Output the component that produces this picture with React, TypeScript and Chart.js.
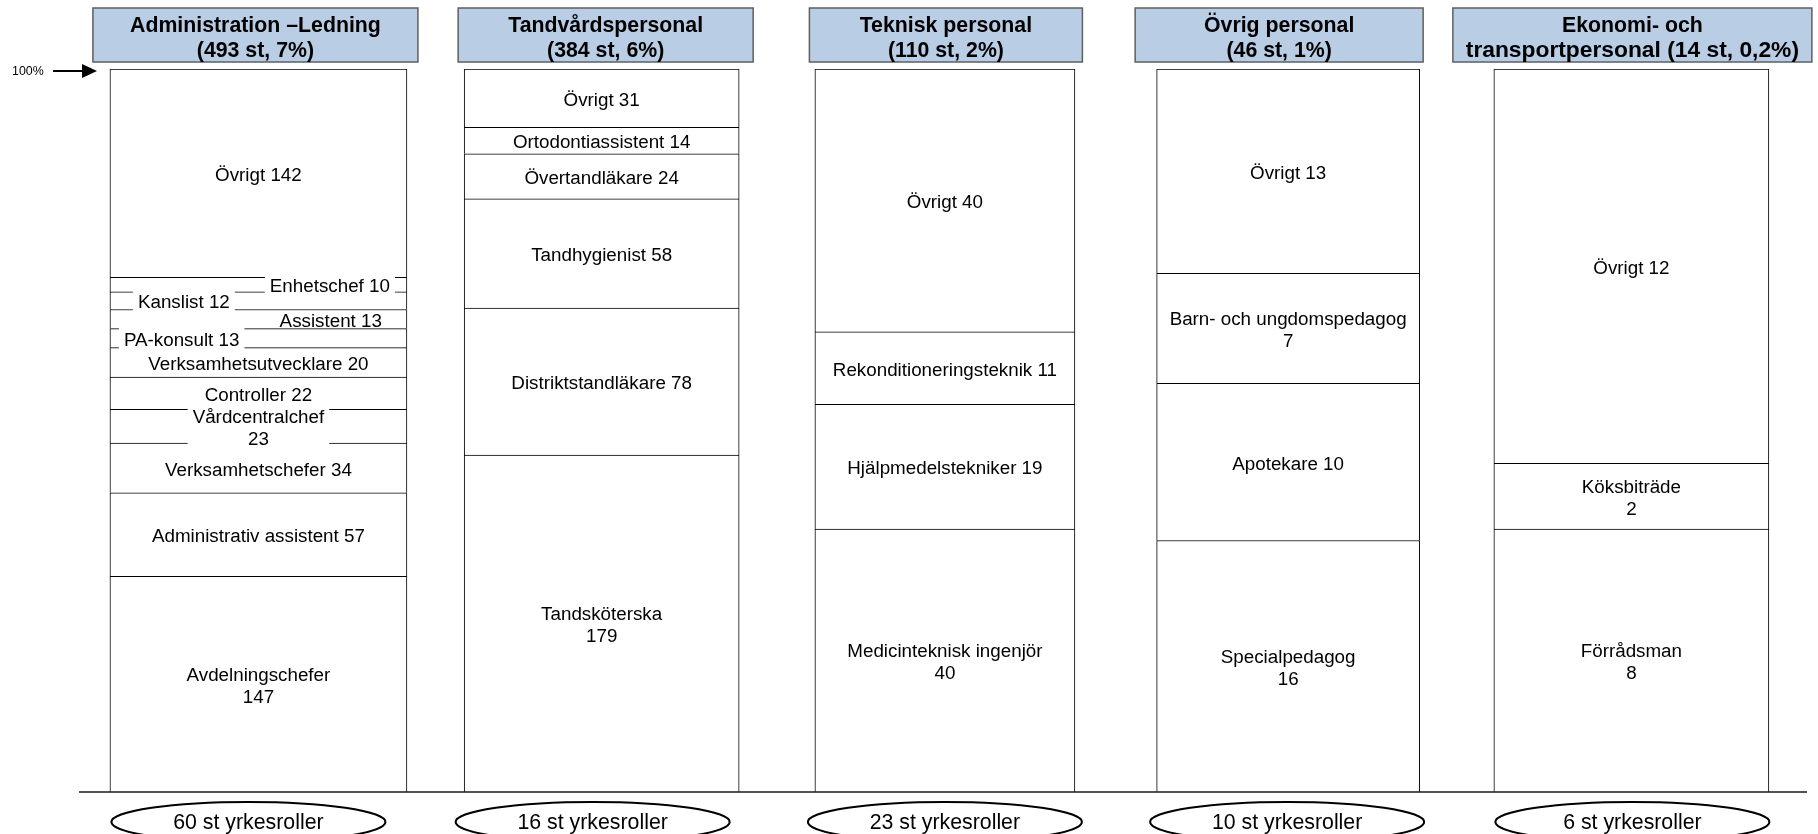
import React, { useEffect, useRef } from "react";
import { Chart, registerables } from "chart.js";

Chart.register(...registerables);

// ---------------- data ----------------
const groupNames = [
  "Administration –Ledning",
  "Tandvårdspersonal",
  "Teknisk personal",
  "Övrig personal",
  "Ekonomi- och transportpersonal",
];
const headerLines = [
  ["Administration –Ledning", "(493 st, 7%)"],
  ["Tandvårdspersonal", "(384 st, 6%)"],
  ["Teknisk personal", "(110 st, 2%)"],
  ["Övrig personal", "(46 st, 1%)"],
  ["Ekonomi- och", "transportpersonal (14 st, 0,2%)"],
];
const roleTotals = [60, 16, 23, 10, 6];

// segments listed bottom -> top
const adminRoles = [
  "Avdelningschefer",
  "Administrativ assistent",
  "Verksamhetschefer",
  "Vårdcentralchef",
  "Controller",
  "Verksamhetsutvecklare",
  "PA-konsult",
  "Assistent",
  "Kanslist",
  "Enhetschef",
  "Övrigt",
];
const adminCounts = [147, 57, 34, 23, 22, 20, 13, 13, 12, 10, 142];

const dentalRoles = [
  "Tandsköterska",
  "Distriktstandläkare",
  "Tandhygienist",
  "Övertandläkare",
  "Ortodontiassistent",
  "Övrigt",
];
const dentalCounts = [179, 78, 58, 24, 14, 31];

const techRoles = [
  "Medicinteknisk ingenjör",
  "Hjälpmedelstekniker",
  "Rekonditioneringsteknik",
  "Övrigt",
];
const techCounts = [40, 19, 11, 40];

const otherRoles = ["Specialpedagog", "Apotekare", "Barn- och ungdomspedagog", "Övrigt"];
const otherCounts = [16, 10, 7, 13];

const econRoles = ["Förrådsman", "Köksbiträde", "Övrigt"];
const econCounts = [8, 2, 12];

const groupRoles = [adminRoles, dentalRoles, techRoles, otherRoles, econRoles];
const groupCounts = [adminCounts, dentalCounts, techCounts, otherCounts, econCounts];

// ---------------- styles ----------------
const FONT = '"Liberation Sans", Arial, Helvetica, sans-serif';
const barWidths = [297, 275, 260, 263, 275];
const headerWidths = [325, 295, 273, 288, 359];
const headerShift = [-3, 4, 1, -9, 1];
const headerLine2Size = [21.3, 21.3, 21.3, 21.3, 22.8];
const ovalShift = [-10, -9, 0, -1, 1];

type LabelStyle = { align?: "left" | "right" | "center"; dx?: number; bg?: boolean; wrap?: boolean };
const adminLabelStyle: LabelStyle[] = [
  { wrap: true },
  {},
  {},
  { wrap: true, bg: true },
  {},
  {},
  { align: "left", dx: 14, bg: true },
  { align: "right", dx: 25 },
  { align: "left", dx: 28, bg: true },
  { align: "right", dx: 17, bg: true },
  {},
];
const dentalLabelStyle: LabelStyle[] = [{ wrap: true }, {}, {}, {}, {}, {}];
const techLabelStyle: LabelStyle[] = [{ wrap: true }, {}, {}, {}];
const otherLabelStyle: LabelStyle[] = [{ wrap: true }, {}, { wrap: true }, {}];
const econLabelStyle: LabelStyle[] = [{ wrap: true }, { wrap: true }, {}];
const groupLabelStyles = [adminLabelStyle, dentalLabelStyle, techLabelStyle, otherLabelStyle, econLabelStyle];

const overlayPlugin = {
  id: "overlay",
  afterDatasetsDraw(chart: any) {
    const ctx: CanvasRenderingContext2D = chart.ctx;
    const xs = chart.scales.x;
    const ys = chart.scales.y;
    const yTop = ys.getPixelForValue(100);
    const yBase = ys.getPixelForValue(0);

    ctx.save();

    // baseline
    ctx.strokeStyle = "#1a1a1a";
    ctx.lineWidth = 1.5;
    ctx.beginPath();
    ctx.moveTo(79, yBase);
    ctx.lineTo(1807, yBase);
    ctx.stroke();

    // segment labels
    ctx.font = `18.8px ${FONT}`;
    const lineH = 22;
    const items: any[] = [];
    chart.data.datasets.forEach((ds: any, di: number) => {
      const meta = chart.getDatasetMeta(di);
      const el = meta.data[ds.group];
      if (!el) return;
      const p = el.getProps(["x", "y", "base", "width"], true);
      const style: LabelStyle = groupLabelStyles[ds.group][ds.seg] || {};
      const name = groupRoles[ds.group][ds.seg];
      const count = groupCounts[ds.group][ds.seg];
      const lines = style.wrap ? [name, String(count)] : [`${name} ${count}`];
      const widths = lines.map((l) => ctx.measureText(l).width);
      const maxW = Math.max(...widths);
      const cy = (p.y + p.base) / 2 + 2.5;
      const left = p.x - p.width / 2;
      const right = p.x + p.width / 2;
      let cx = p.x;
      if (style.align === "left") cx = left + (style.dx || 0) + maxW / 2;
      if (style.align === "right") cx = right - (style.dx || 0) - maxW / 2;
      items.push({ lines, cx, cy, maxW, style });
    });
    // white backgrounds first
    ctx.fillStyle = "#ffffff";
    items.forEach((it) => {
      if (!it.style.bg) return;
      const h = it.lines.length * lineH + 8;
      ctx.fillRect(it.cx - it.maxW / 2 - 5, it.cy - h / 2, it.maxW + 10, h);
    });
    ctx.fillStyle = "#000000";
    ctx.textAlign = "center";
    ctx.textBaseline = "middle";
    items.forEach((it) => {
      const n = it.lines.length;
      it.lines.forEach((l: string, i: number) => {
        ctx.fillText(l, it.cx, it.cy + (i - (n - 1) / 2) * lineH);
      });
    });

    // headers
    headerLines.forEach((hl, g) => {
      const cx = xs.getPixelForValue(g) + headerShift[g];
      const w = headerWidths[g];
      const top = 8;
      const h = 54;
      ctx.fillStyle = "#b9cde5";
      ctx.fillRect(cx - w / 2, top, w, h);
      ctx.strokeStyle = "#5f5f5f";
      ctx.lineWidth = 1.5;
      ctx.strokeRect(cx - w / 2, top, w, h);
      ctx.fillStyle = "#000000";
      ctx.textAlign = "center";
      ctx.textBaseline = "alphabetic";
      ctx.font = `bold 21.3px ${FONT}`;
      ctx.fillText(hl[0], cx, top + 23.5);
      ctx.font = `bold ${headerLine2Size[g]}px ${FONT}`;
      ctx.fillText(hl[1], cx, top + 49);
    });

    // ovals with role totals
    roleTotals.forEach((n, g) => {
      const cx = xs.getPixelForValue(g) + ovalShift[g];
      const cy = 822;
      ctx.beginPath();
      ctx.ellipse(cx, cy, 137, 20, 0, 0, Math.PI * 2);
      ctx.fillStyle = "#ffffff";
      ctx.fill();
      ctx.strokeStyle = "#000000";
      ctx.lineWidth = 2;
      ctx.stroke();
      ctx.fillStyle = "#000000";
      ctx.font = `21.3px ${FONT}`;
      ctx.textAlign = "center";
      ctx.textBaseline = "middle";
      ctx.fillText(`${n} st yrkesroller`, cx, cy + 1);
    });

    // 100% arrow
    const ay = yTop + 2;
    ctx.fillStyle = "#000000";
    ctx.font = `12.4px ${FONT}`;
    ctx.textAlign = "left";
    ctx.textBaseline = "middle";
    ctx.fillText("100%", 12, ay + 1);
    ctx.strokeStyle = "#000000";
    ctx.lineWidth = 2;
    ctx.beginPath();
    ctx.moveTo(53, ay);
    ctx.lineTo(84, ay);
    ctx.stroke();
    ctx.beginPath();
    ctx.moveTo(82, ay - 7);
    ctx.lineTo(97, ay);
    ctx.lineTo(82, ay + 7);
    ctx.closePath();
    ctx.fill();

    ctx.restore();
  },
};

export default function App() {
  const canvasRef = useRef<HTMLCanvasElement | null>(null);

  useEffect(() => {
    const canvas = canvasRef.current;
    if (!canvas) return;

    const datasets: any[] = [];
    groupCounts.forEach((counts, g) => {
      const sum = counts.reduce((a, b) => a + b, 0);
      let acc = 0;
      counts.forEach((v, k) => {
        const lo = (acc / sum) * 100;
        acc += v;
        const hi = (acc / sum) * 100;
        datasets.push({
          label: `${groupRoles[g][k]} ${v}`,
          data: groupNames.map((_, i) => (i === g ? [lo, hi] : null)),
          group: g,
          seg: k,
          backgroundColor: "#ffffff",
          borderColor: "#000000",
          borderWidth: 1,
          borderSkipped: "bottom",
          barThickness: barWidths[g],
          grouped: false,
        });
      });
    });

    const chart = new Chart(canvas, {
      type: "bar",
      data: { labels: groupNames, datasets },
      options: {
        animation: false,
        responsive: true,
        maintainAspectRatio: false,
        layout: { padding: { left: 86.8, right: 15, top: 69, bottom: 42 } },
        scales: {
          x: { type: "category", display: false, offset: true },
          y: { type: "linear", min: 0, max: 100, display: false },
        },
        plugins: {
          legend: { display: false },
          tooltip: { enabled: false },
        },
      } as any,
      plugins: [overlayPlugin],
    });

    return () => chart.destroy();
  }, []);

  return (
    <div style={{ position: "absolute", left: 0, top: 0, width: 1818, height: 834, background: "#ffffff" }}>
      <canvas ref={canvasRef} />
    </div>
  );
}
